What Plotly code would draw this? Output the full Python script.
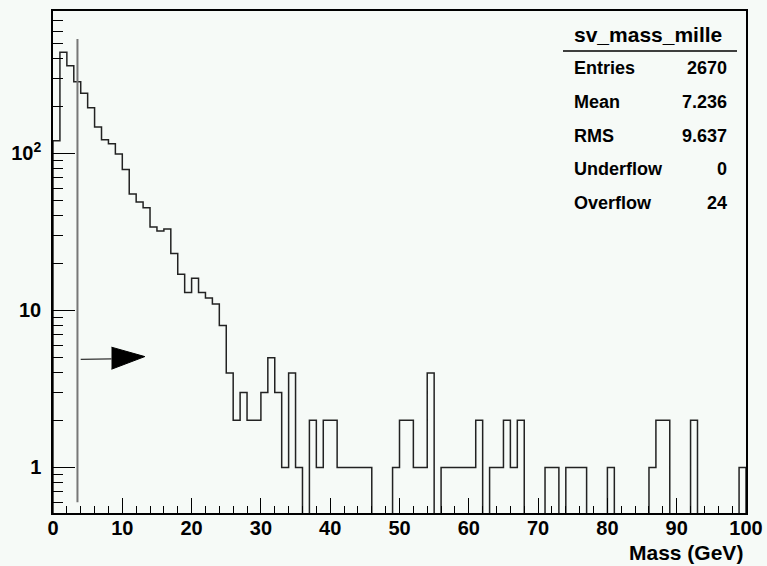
import plotly.graph_objects as go

# sv_mass_mille: secondary-vertex mass, 100 bins of 1 GeV from 0 to 100
bin_low = 0.0
bin_width = 1.0
counts = [
    120, 440, 361, 285, 241, 195, 147, 122, 115, 99,
    79, 55, 49, 45, 34, 32, 33, 23, 17, 13,
    16, 13, 12, 11, 8, 4, 2, 3, 2, 2,
    3, 5, 3, 1, 4, 1, 0, 2, 1, 2,
    2, 1, 1, 1, 1, 1, 0, 0, 0, 1,
    2, 2, 1, 1, 4, 0, 1, 1, 1, 1,
    1, 2, 0, 1, 1, 2, 1, 2, 0, 0,
    0, 1, 1, 0, 1, 1, 1, 0, 0, 0,
    1, 0, 0, 0, 0, 0, 1, 2, 2, 0,
    0, 0, 2, 0, 0, 0, 0, 0, 0, 1,
]

# statistics box
stats_title = "sv_mass_mille"
stats_labels = ["Entries", "Mean", "RMS", "Underflow", "Overflow"]
stats_values = ["2670", "7.236", "9.637", "0", "24"]

# axis tick labels
x_ticks = [0, 10, 20, 30, 40, 50, 60, 70, 80, 90, 100]
y_major = [1, 10, 100]
y_major_text = ["1", "10", "10<sup>2</sup>"]
y_minor = [0.6, 0.7, 0.8, 0.9] + [m * d for d in (1, 10, 100) for m in range(2, 10)]

# cut line and arrow marker (data coordinates)
cut_x = 3.53
cut_y = (0.6, 535)
arrow_shaft_x = (4.0, 8.44)
arrow_shaft_y = (4.87, 4.91)
arrow_head_x = (8.44, 13.25, 8.44)
arrow_head_y = (5.83, 5.08, 4.22)

W, H = 767, 566
ML, MR, MT, MB = 53, 21, 11, 53
PW, PH = W - ML - MR, H - MT - MB
BG = "#f6faf7"
FONT = "Liberation Sans, Arial, Helvetica, sans-serif"


def px(x):
    return (x - ML) / PW


def py(y):
    return (H - MB - y) / PH


# build the step outline of the histogram
edges = [bin_low + i * bin_width for i in range(len(counts) + 1)]
floor_val = 1e-3  # empty bins drop below the visible range
step_x = [edges[0]]
step_y = [floor_val]
for i, c in enumerate(counts):
    v = c if c > 0 else floor_val
    step_x += [edges[i], edges[i + 1]]
    step_y += [v, v]
step_x.append(edges[-1])
step_y.append(floor_val)

fig = go.Figure()
fig.add_trace(go.Scatter(
    x=step_x, y=step_y, mode="lines",
    line=dict(color="#222222", width=1.5, shape="linear"),
    hoverinfo="skip", showlegend=False,
))
fig.add_trace(go.Scatter(
    x=[cut_x, cut_x], y=list(cut_y), mode="lines",
    line=dict(color="#777777", width=2), hoverinfo="skip", showlegend=False,
))
fig.add_trace(go.Scatter(
    x=list(arrow_shaft_x), y=list(arrow_shaft_y), mode="lines",
    line=dict(color="#333333", width=1.2), hoverinfo="skip", showlegend=False,
))
fig.add_trace(go.Scatter(
    x=list(arrow_head_x), y=list(arrow_head_y), mode="lines",
    fill="toself", fillcolor="black", line=dict(color="black", width=1),
    hoverinfo="skip", showlegend=False,
))

tick_font = dict(family=FONT, size=20, color="black", weight=700)

fig.update_xaxes(
    range=[0, 100], tickvals=x_ticks, ticktext=[str(t) for t in x_ticks],
    ticks="inside", ticklen=15, tickwidth=1, tickcolor="black",
    minor=dict(dtick=2, tick0=0, ticks="inside", ticklen=7, tickwidth=1,
               tickcolor="black", showgrid=False),
    showline=True, linecolor="black", linewidth=1.5, mirror=True,
    showgrid=False, zeroline=False, tickfont=tick_font,
    ticklabelstandoff=-4, automargin=False,
)
fig.update_yaxes(
    type="log", range=[-0.29, 2.906],
    tickmode="array", tickvals=y_major, ticktext=y_major_text,
    ticks="inside", ticklen=22, tickwidth=1, tickcolor="black",
    minor=dict(tickmode="array", tickvals=y_minor, ticks="inside", ticklen=10,
               tickwidth=1, tickcolor="black", showgrid=False),
    showline=True, linecolor="black", linewidth=1.5, mirror=True,
    showgrid=False, zeroline=False, tickfont=tick_font,
    ticklabelstandoff=6, automargin=False,
)

annotations = [
    dict(x=px(648), y=py(35), xref="paper", yref="paper", text=stats_title,
         showarrow=False, xanchor="center", yanchor="middle",
         font=dict(family=FONT, size=21, color="black", weight=700)),
    dict(x=px(745), y=py(552), xref="paper", yref="paper", text="Mass (GeV)",
         showarrow=False, xanchor="right", yanchor="middle",
         font=dict(family=FONT, size=21, color="black", weight=700)),
]
row_y = [68.3, 101.7, 136, 169.3, 202.7]
for lab, val, ry in zip(stats_labels, stats_values, row_y):
    annotations.append(dict(
        x=px(572), y=py(ry), xref="paper", yref="paper", text=lab,
        showarrow=False, xanchor="left", yanchor="middle",
        font=dict(family=FONT, size=18, color="black", weight=700)))
    annotations.append(dict(
        x=px(729), y=py(ry), xref="paper", yref="paper", text=val,
        showarrow=False, xanchor="right", yanchor="middle",
        font=dict(family=FONT, size=18, color="black", weight=700)))

fig.update_layout(
    width=W, height=H,
    margin=dict(l=ML, r=MR, t=MT, b=MB, pad=0, autoexpand=False),
    paper_bgcolor=BG, plot_bgcolor=BG,
    annotations=annotations,
    shapes=[dict(type="line", xref="paper", yref="paper",
                 x0=px(563), x1=px(737), y0=py(51), y1=py(51),
                 line=dict(color="black", width=1.5))],
    showlegend=False,
)

fig.write_html("out.html")
